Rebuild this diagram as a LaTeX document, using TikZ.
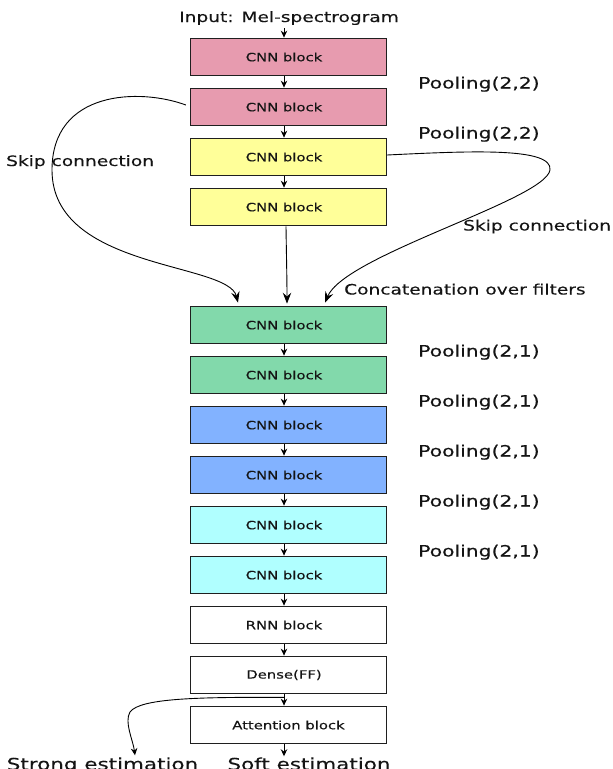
\documentclass[tikz,border=0pt]{standalone}
\usepackage{fontspec}
\setmainfont{DejaVu Sans}[FakeStretch=1.3,FakeBold=0.25]
\usetikzlibrary{arrows.meta,calc}
\definecolor{pinkc}{HTML}{E79BAF}
\definecolor{yellowc}{HTML}{FFFF99}
\definecolor{greenc}{HTML}{82D9AB}
\definecolor{bluec}{HTML}{82B2FF}
\definecolor{cyanc}{HTML}{B0FFFF}
\definecolor{txt}{HTML}{141414}
\newcommand\bt[1]{\hspace*{-9pt}#1}
\begin{document}
\begin{tikzpicture}[x=1pt,y=-1pt,
  box/.style={draw=black!88,line width=1.3pt,minimum width=196pt,minimum height=37.5pt,
    inner sep=0pt,text=txt,font=\fontsize{11.4}{13}\selectfont},
  lab/.style={anchor=base west,inner sep=0pt,text=txt,font=\fontsize{14.3}{17}\selectfont},
  pool/.style={anchor=base west,inner sep=0pt,text=txt,font=\fontsize{15.6}{18}\selectfont},
  est/.style={anchor=base,inner sep=0pt,text=txt,font=\fontsize{16.5}{19}\selectfont},
  arr/.style={line width=0.9pt,-{Stealth[length=7pt,width=6.5pt,inset=2.3pt]}},
  skiparr/.style={line width=0.9pt,-{Stealth[length=11pt,width=8.5pt,inset=4pt]}}
]
\useasboundingbox (0,0) rectangle (613,769);

% boxes
\node[box,fill=pinkc]   (c1) at (288.5,57)  {\bt{CNN block}};
\node[box,fill=pinkc]   (c2) at (288.5,107) {\bt{CNN block}};
\node[box,fill=yellowc] (c3) at (288.5,157) {\bt{CNN block}};
\node[box,fill=yellowc] (c4) at (288.5,207) {\bt{CNN block}};
\node[box,fill=greenc]  (c5) at (288.5,325) {\bt{CNN block}};
\node[box,fill=greenc]  (c6) at (288.5,375) {\bt{CNN block}};
\node[box,fill=bluec]   (c7) at (288.5,425) {\bt{CNN block}};
\node[box,fill=bluec]   (c8) at (288.5,475) {\bt{CNN block}};
\node[box,fill=cyanc]   (c9) at (288.5,525) {\bt{CNN block}};
\node[box,fill=cyanc]   (c10) at (288.5,575) {\bt{CNN block}};
\node[box,fill=white]   (rnn) at (288.5,625) {\bt{RNN block}};
\node[box,fill=white]   (dense) at (288.5,675) {\bt{Dense(FF)}};
\node[box,fill=white]   (att) at (288.5,725) {Attention block};

% labels
\node[lab] (inp) at (179,22) {Input: Mel-spectrogram};
\node[pool] (p1) at (418,88.5) {Pooling(2,2)};
\node[pool] (p2) at (418,138.5) {Pooling(2,2)};
\node[pool] (p3) at (418,356.5) {Pooling(2,1)};
\node[pool] (p4) at (418,406.5) {Pooling(2,1)};
\node[pool] (p5) at (418,456.5) {Pooling(2,1)};
\node[pool] (p6) at (418,506.5) {Pooling(2,1)};
\node[pool] (p7) at (418,556.5) {Pooling(2,1)};
\node[lab] (skl) at (6,166) {Skip connection};
\node[lab] (skr) at (463,230.5) {Skip connection};
\node[lab] (cat) at (344,294.5) {Concatenation over filters};
\node[est] (strong) at (102.5,770) {Strong estimation};
\node[est] (soft) at (309,770) {Soft estimation};

% short arrows
\draw[arr] (inp.south -| 284,0) ++(0,3) -- (c1.north -| 284,0);
\foreach \a/\b in {c1/c2,c2/c3,c3/c4,c5/c6,c6/c7,c7/c8,c8/c9,c9/c10,c10/rnn,rnn/dense,dense/att}
  \draw[arr] (\a.south -| 284,0) -- (\b.north -| 284,0);
\draw[arr] (att.south -| 284,0) -- ($(soft.north -| 284,0)+(0,-1)$);

% main concat arrow
\draw[skiparr] (c4.south -| 286,0) .. controls (286.5,260) and (287,280) .. ($(c5.north -| 287,0)+(0,-2)$);

% left skip connection
\coordinate (lend) at ($(c5.north -| 238,0)+(0,-3)$);
\draw[skiparr] ($(c2.west)+(-4,-2)$) .. controls (140,88) and (52,90) .. (52,170)
  .. controls (52,270) and (228,262) .. (lend);

% right skip connection
\coordinate (rend) at ($(c5.north -| 325,0)+(0,-3)$);
\draw[skiparr] ($(c3.east)+(0,-2)$) .. controls (470,151) and (553,147) .. (550,170)
  .. controls (545,200) and (345,255) .. (rend);

% strong estimation branch
\draw[arr] ($(dense.south -| 284,0)+(0,3)$) .. controls (200,697) and (140,698) .. (130,712)
  .. controls (124,722) and (133,740) .. ($(strong.north -| 135,0)+(0,-2)$);
\end{tikzpicture}
\end{document}
